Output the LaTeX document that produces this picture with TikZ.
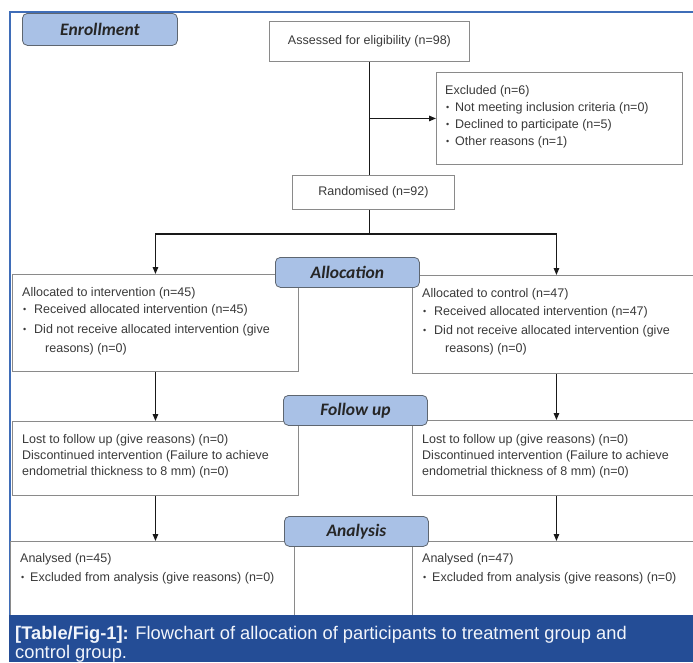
\documentclass[tikz,border=0pt]{standalone}
\usepackage{fontspec}
\setmainfont{Liberation Sans}
\newfontfamily\labfont{Carlito}
\usetikzlibrary{arrows.meta}
\definecolor{framec}{HTML}{3F6DB8}
\definecolor{capc}{HTML}{244D96}
\definecolor{labfill}{HTML}{A9C1E6}
\definecolor{labdraw}{HTML}{5E6670}
\definecolor{boxc}{HTML}{8A8A8A}
\definecolor{txt}{HTML}{3A3A3A}
\definecolor{capt}{HTML}{F2F5FB}
\newcommand{\bul}[1]{\makebox[#1][l]{\raisebox{0.6pt}{\fontsize{9}{9}\selectfont\textbullet}}}
\begin{document}
\begin{tikzpicture}[x=1pt,y=-1pt,
  box/.style={draw=boxc,line width=0.9pt,fill=white,inner sep=0pt,anchor=north west,text=txt,font=\fontsize{12.5}{14}\selectfont},
  lab/.style={draw=labdraw,line width=0.8pt,fill=labfill,rounded corners=5pt,inner sep=0pt,anchor=north west,font=\labfont\bfseries\itshape\fontsize{17.5}{18}\selectfont,text=black!85},
  ln/.style={anchor=base west,inner sep=0pt,font=\fontsize{12.5}{14}\selectfont,text=txt},
  con/.style={line width=1.3pt,draw=black!90},
  arr/.style={con,-{Triangle[length=7pt,width=5.5pt]}}]
\useasboundingbox (0,0) rectangle (693,662);
% frame
\draw[framec,line width=1.2pt] (693,12) -- (10,12) -- (10,615);
% boxes
\node[box,minimum width=200pt,minimum height=40pt] (assess) at (269,21) {Assessed for eligibility (n=98)};
\node[box,minimum width=162pt,minimum height=34pt] (rand) at (292,175) {Randomised (n=92)};
\node[box,minimum width=246pt,minimum height=92pt] (excl) at (436,72) {};
\node[box,minimum width=286pt,minimum height=97pt] (allocL) at (12,274) {};
\node[box,minimum width=288pt,minimum height=98pt] (allocR) at (412,275) {};
\node[box,minimum width=286pt,minimum height=74pt] (fuL) at (12,421) {};
\node[box,minimum width=288pt,minimum height=75pt] (fuR) at (412,420) {};
\node[box,minimum width=284pt,minimum height=100pt] (anL) at (10,541) {};
\node[box,minimum width=288pt,minimum height=100pt] (anR) at (412,541) {};
% stage labels
\node[lab,minimum width=155pt,minimum height=32pt] (enr) at (22,13) {Enrollment};
\node[lab,minimum width=144pt,minimum height=30pt] (allocLab) at (275,257) {Allocation};
\node[lab,minimum width=144pt,minimum height=30pt] (fuLab) at (283,395) {Follow up};
\node[lab,minimum width=144pt,minimum height=30pt] (anLab) at (284,516) {Analysis};
% excluded text
\node[ln] (ex1) at (445,94.5) {Excluded (n=6)};
\node[ln] (ex2) at (446,111.5) {\bul{9pt}Not meeting inclusion criteria (n=0)};
\node[ln] (ex3) at (446,128.5) {\bul{9pt}Declined to participate (n=5)};
\node[ln] (ex4) at (446,145) {\bul{9pt}Other reasons (n=1)};
% allocation left
\node[ln] (al1) at (22,296.5) {Allocated to intervention (n=45)};
\node[ln] (al2) at (23,313.5) {\bul{11pt}Received allocated intervention (n=45)};
\node[ln] (al3) at (23,333.5) {\bul{11pt}Did not receive allocated intervention (give};
\node[ln] (al4) at (45,352.5) {reasons) (n=0)};
% allocation right
\node[ln] (ar1) at (422,297.5) {Allocated to control (n=47)};
\node[ln] (ar2) at (423,315.5) {\bul{11pt}Received allocated intervention (n=47)};
\node[ln] (ar3) at (423,334.5) {\bul{11pt}Did not receive allocated intervention (give};
\node[ln] (ar4) at (445,352.5) {reasons) (n=0)};
% follow up
\node[ln] (fl1) at (22,443.5) {Lost to follow up (give reasons) (n=0)};
\node[ln] (fl2) at (22,459.5) {Discontinued intervention (Failure to achieve};
\node[ln] (fl3) at (22,475.5) {endometrial thickness to 8 mm) (n=0)};
\node[ln] (fr1) at (422,443.5) {Lost to follow up (give reasons) (n=0)};
\node[ln] (fr2) at (422,459.5) {Discontinued intervention (Failure to achieve};
\node[ln] (fr3) at (422,475.5) {endometrial thickness of 8 mm) (n=0)};
% analysis
\node[ln] (nl1) at (20,562.5) {Analysed (n=45)};
\node[ln] (nl2) at (21,581.5) {\bul{9pt}Excluded from analysis (give reasons) (n=0)};
\node[ln] (nr1) at (422,562.5) {Analysed (n=47)};
\node[ln] (nr2) at (423,581.5) {\bul{9pt}Excluded from analysis (give reasons) (n=0)};
% connectors
\draw[con] (assess.south) -- (assess.south |- rand.north);
\draw[arr] (assess.south |- excl.west) -- (excl.west);
\draw[con] (rand.south -| assess.south) -- ++(0,24) coordinate (split);
\draw[arr] (split) -| (allocL.north);
\draw[arr] (split) -| (allocR.north);
\draw[arr] (allocL.south) -- (fuL.north);
\draw[arr] (allocR.south) -- (fuR.north);
\draw[arr] (fuL.south) -- (fuL.south |- anL.north);
\draw[arr] (fuR.south) -- (fuR.south |- anR.north);
% caption
\node[fill=capc,minimum width=684pt,minimum height=47pt,anchor=north west,inner sep=0pt] (capband) at (9,615) {};
\node[anchor=base west,inner sep=0pt,text=capt,font=\fontsize{18.3}{19}\selectfont] (cap1) at (15,639.5) {\textbf{[Table/Fig-1]:} Flowchart of allocation of participants to treatment group and};
\node[anchor=base west,inner sep=0pt,text=capt,font=\fontsize{18.3}{19}\selectfont] (cap2) at (15,658.5) {control group.};
\end{tikzpicture}
\end{document}
